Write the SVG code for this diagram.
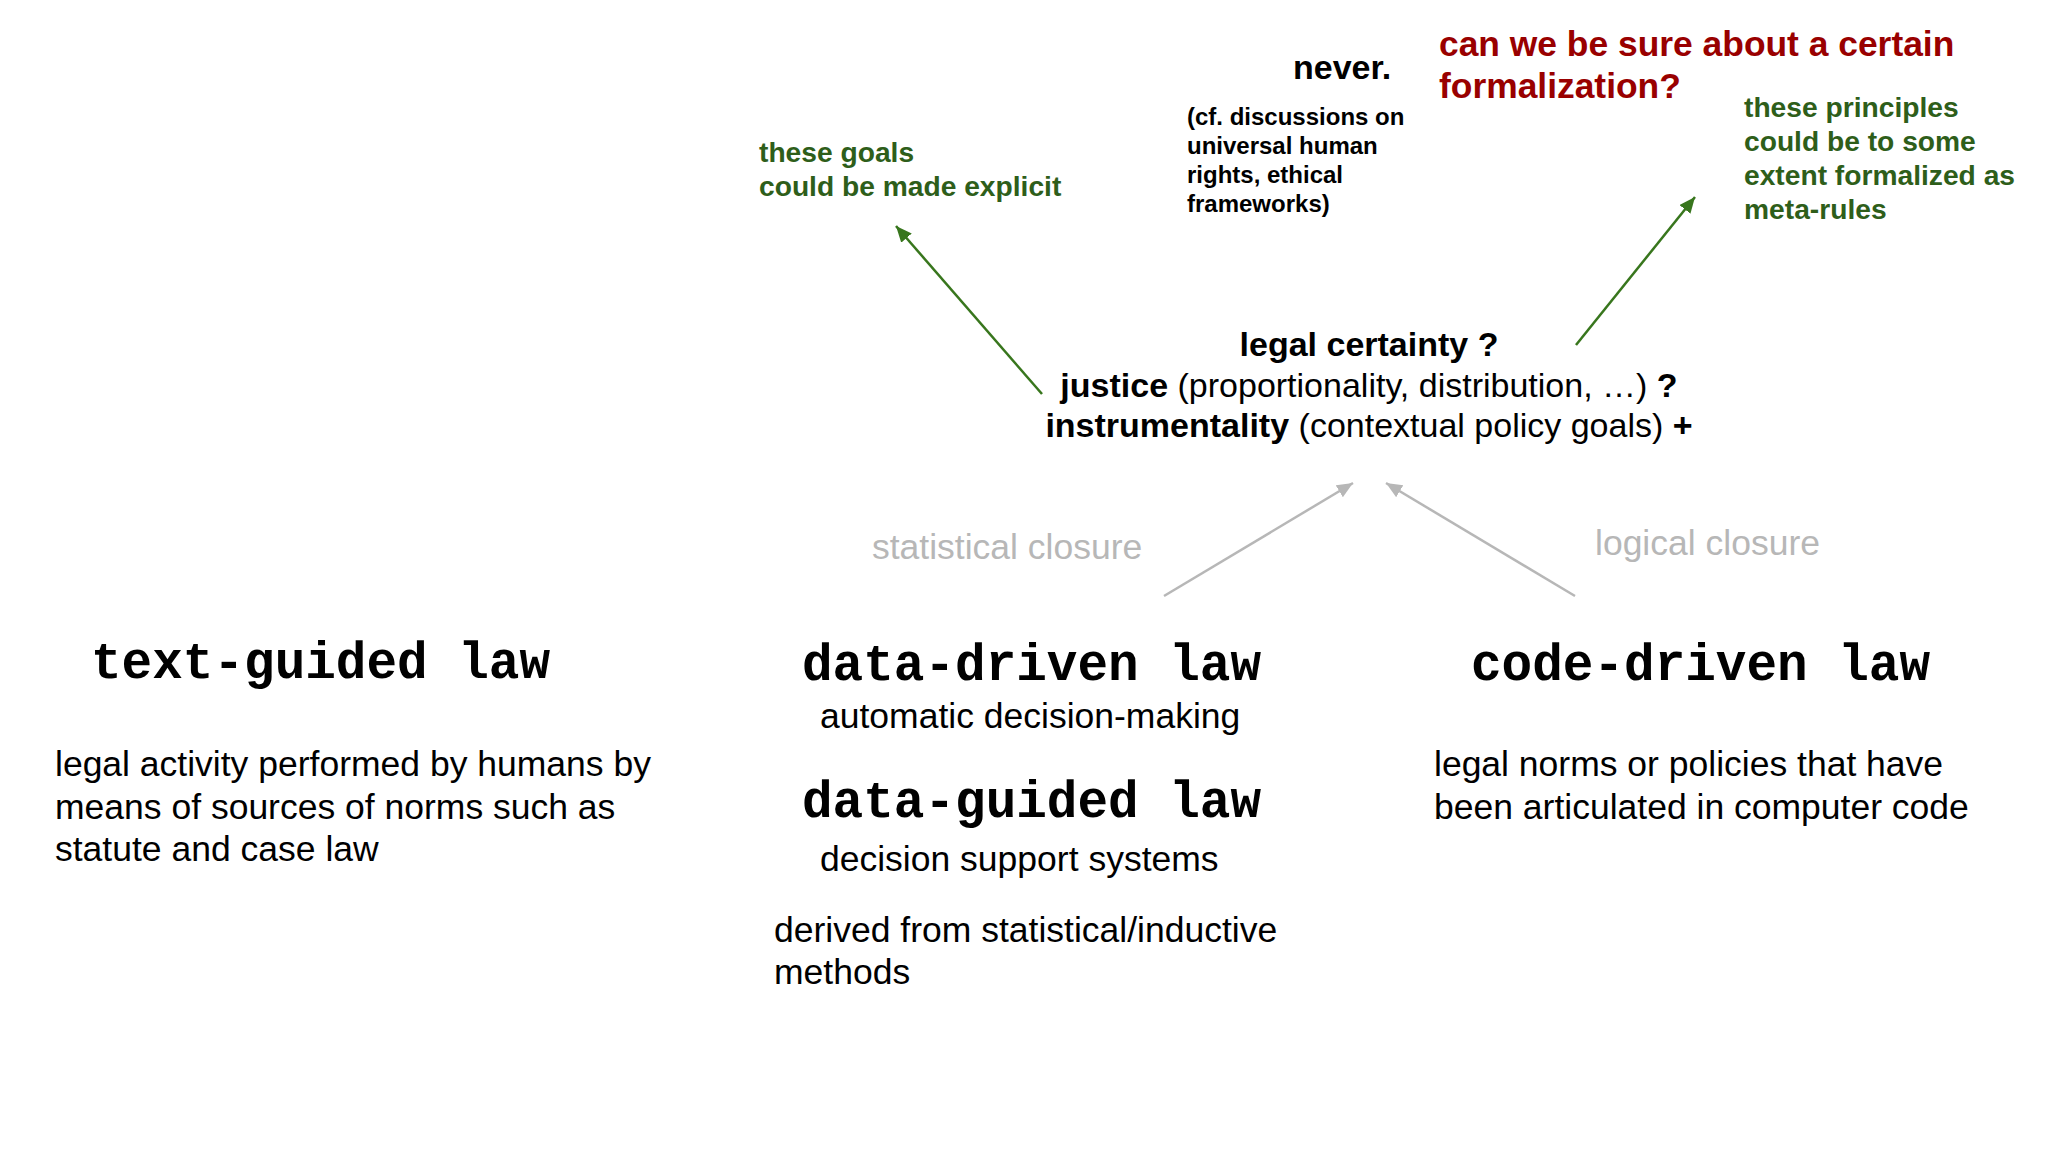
<svg xmlns="http://www.w3.org/2000/svg" width="2048" height="1152" viewBox="0 0 2048 1152">
<defs>
<style>
.sans{font-family:"Liberation Sans",Arial,sans-serif;}
.b{font-weight:bold;}
.body{font-family:"Liberation Sans",Arial,sans-serif;font-size:35.5px;fill:#000;}
.mono{font-family:"Liberation Mono","Courier New",monospace;font-weight:bold;font-size:51px;fill:#000;}
.green{font-family:"Liberation Sans",Arial,sans-serif;font-weight:bold;font-size:28.2px;fill:#2e5e1a;}
.red{font-family:"Liberation Sans",Arial,sans-serif;font-weight:bold;font-size:35.4px;fill:#990000;}
.gray{font-family:"Liberation Sans",Arial,sans-serif;font-size:35.5px;fill:#b7b7b7;}
.note{font-family:"Liberation Sans",Arial,sans-serif;font-weight:bold;font-size:24px;fill:#000;}
.center{font-family:"Liberation Sans",Arial,sans-serif;font-size:34px;fill:#000;}
.garrow{stroke:#38761d;stroke-width:2.5;fill:none;}
.yarrow{stroke:#b7b7b7;stroke-width:2.5;fill:none;}
</style>
<marker id="mg" markerUnits="userSpaceOnUse" markerWidth="20" markerHeight="16" refX="16" refY="7" orient="auto">
<path d="M0,0 L16,7 L0,14 z" fill="#38761d"/>
</marker>
<marker id="my" markerUnits="userSpaceOnUse" markerWidth="20" markerHeight="16" refX="16" refY="7" orient="auto">
<path d="M0,0 L16,7 L0,14 z" fill="#b7b7b7"/>
</marker>
</defs>
<rect width="2048" height="1152" fill="#ffffff"/>

<g id="connectors">
<line class="garrow" x1="1042" y1="394" x2="896" y2="226" marker-end="url(#mg)"/>
<line class="garrow" x1="1576" y1="345" x2="1695" y2="197" marker-end="url(#mg)"/>
<line class="yarrow" x1="1164" y1="596" x2="1353" y2="483" marker-end="url(#my)"/>
<line class="yarrow" x1="1575" y1="596" x2="1386" y2="483" marker-end="url(#my)"/>
<text class="gray" x="872" y="559">statistical closure</text>
<text class="gray" x="1595" y="555">logical closure</text>
</g>

<g id="never">
<text class="sans b" x="1293" y="79" font-size="34">never.</text>
</g>

<g id="cf-note">
<text class="note" x="1187" y="125">(cf. discussions on</text>
<text class="note" x="1187" y="154">universal human</text>
<text class="note" x="1187" y="183">rights, ethical</text>
<text class="note" x="1187" y="212">frameworks)</text>
</g>

<g id="question">
<text class="red" x="1439" y="56">can we be sure about a certain</text>
<text class="red" x="1439" y="98">formalization?</text>
</g>

<g id="principles-note">
<text class="green" x="1744" y="117">these principles</text>
<text class="green" x="1744" y="151">could be to some</text>
<text class="green" x="1744" y="185">extent formalized as</text>
<text class="green" x="1744" y="219">meta-rules</text>
</g>

<g id="goals-note">
<text class="green" x="759" y="162">these goals</text>
<text class="green" x="759" y="196">could be made explicit</text>
</g>

<g id="values">
<text class="center" x="1369" y="356" text-anchor="middle"><tspan font-weight="bold">legal certainty ?</tspan></text>
<text class="center" x="1369" y="397" text-anchor="middle"><tspan font-weight="bold">justice</tspan> (proportionality, distribution, …) <tspan font-weight="bold">?</tspan></text>
<text class="center" x="1369" y="437" text-anchor="middle"><tspan font-weight="bold">instrumentality</tspan> (contextual policy goals) <tspan font-weight="bold">+</tspan></text>
</g>

<g id="text-guided">
<text class="mono" x="91" y="678">text-guided law</text>
<text class="body" x="55" y="776">legal activity performed by humans by</text>
<text class="body" x="55" y="819">means of sources of norms such as</text>
<text class="body" x="55" y="861">statute and case law</text>
</g>

<g id="data-driven">
<text class="mono" x="802" y="680">data-driven law</text>
<text class="body" x="820" y="728">automatic decision-making</text>
</g>

<g id="data-guided">
<text class="mono" x="802" y="817">data-guided law</text>
<text class="body" x="820" y="871">decision support systems</text>
<text class="body" x="774" y="942">derived from statistical/inductive</text>
<text class="body" x="774" y="984">methods</text>
</g>

<g id="code-driven">
<text class="mono" x="1471" y="680">code-driven law</text>
<text class="body" x="1434" y="776">legal norms or policies that have</text>
<text class="body" x="1434" y="819">been articulated in computer code</text>
</g>
</svg>
